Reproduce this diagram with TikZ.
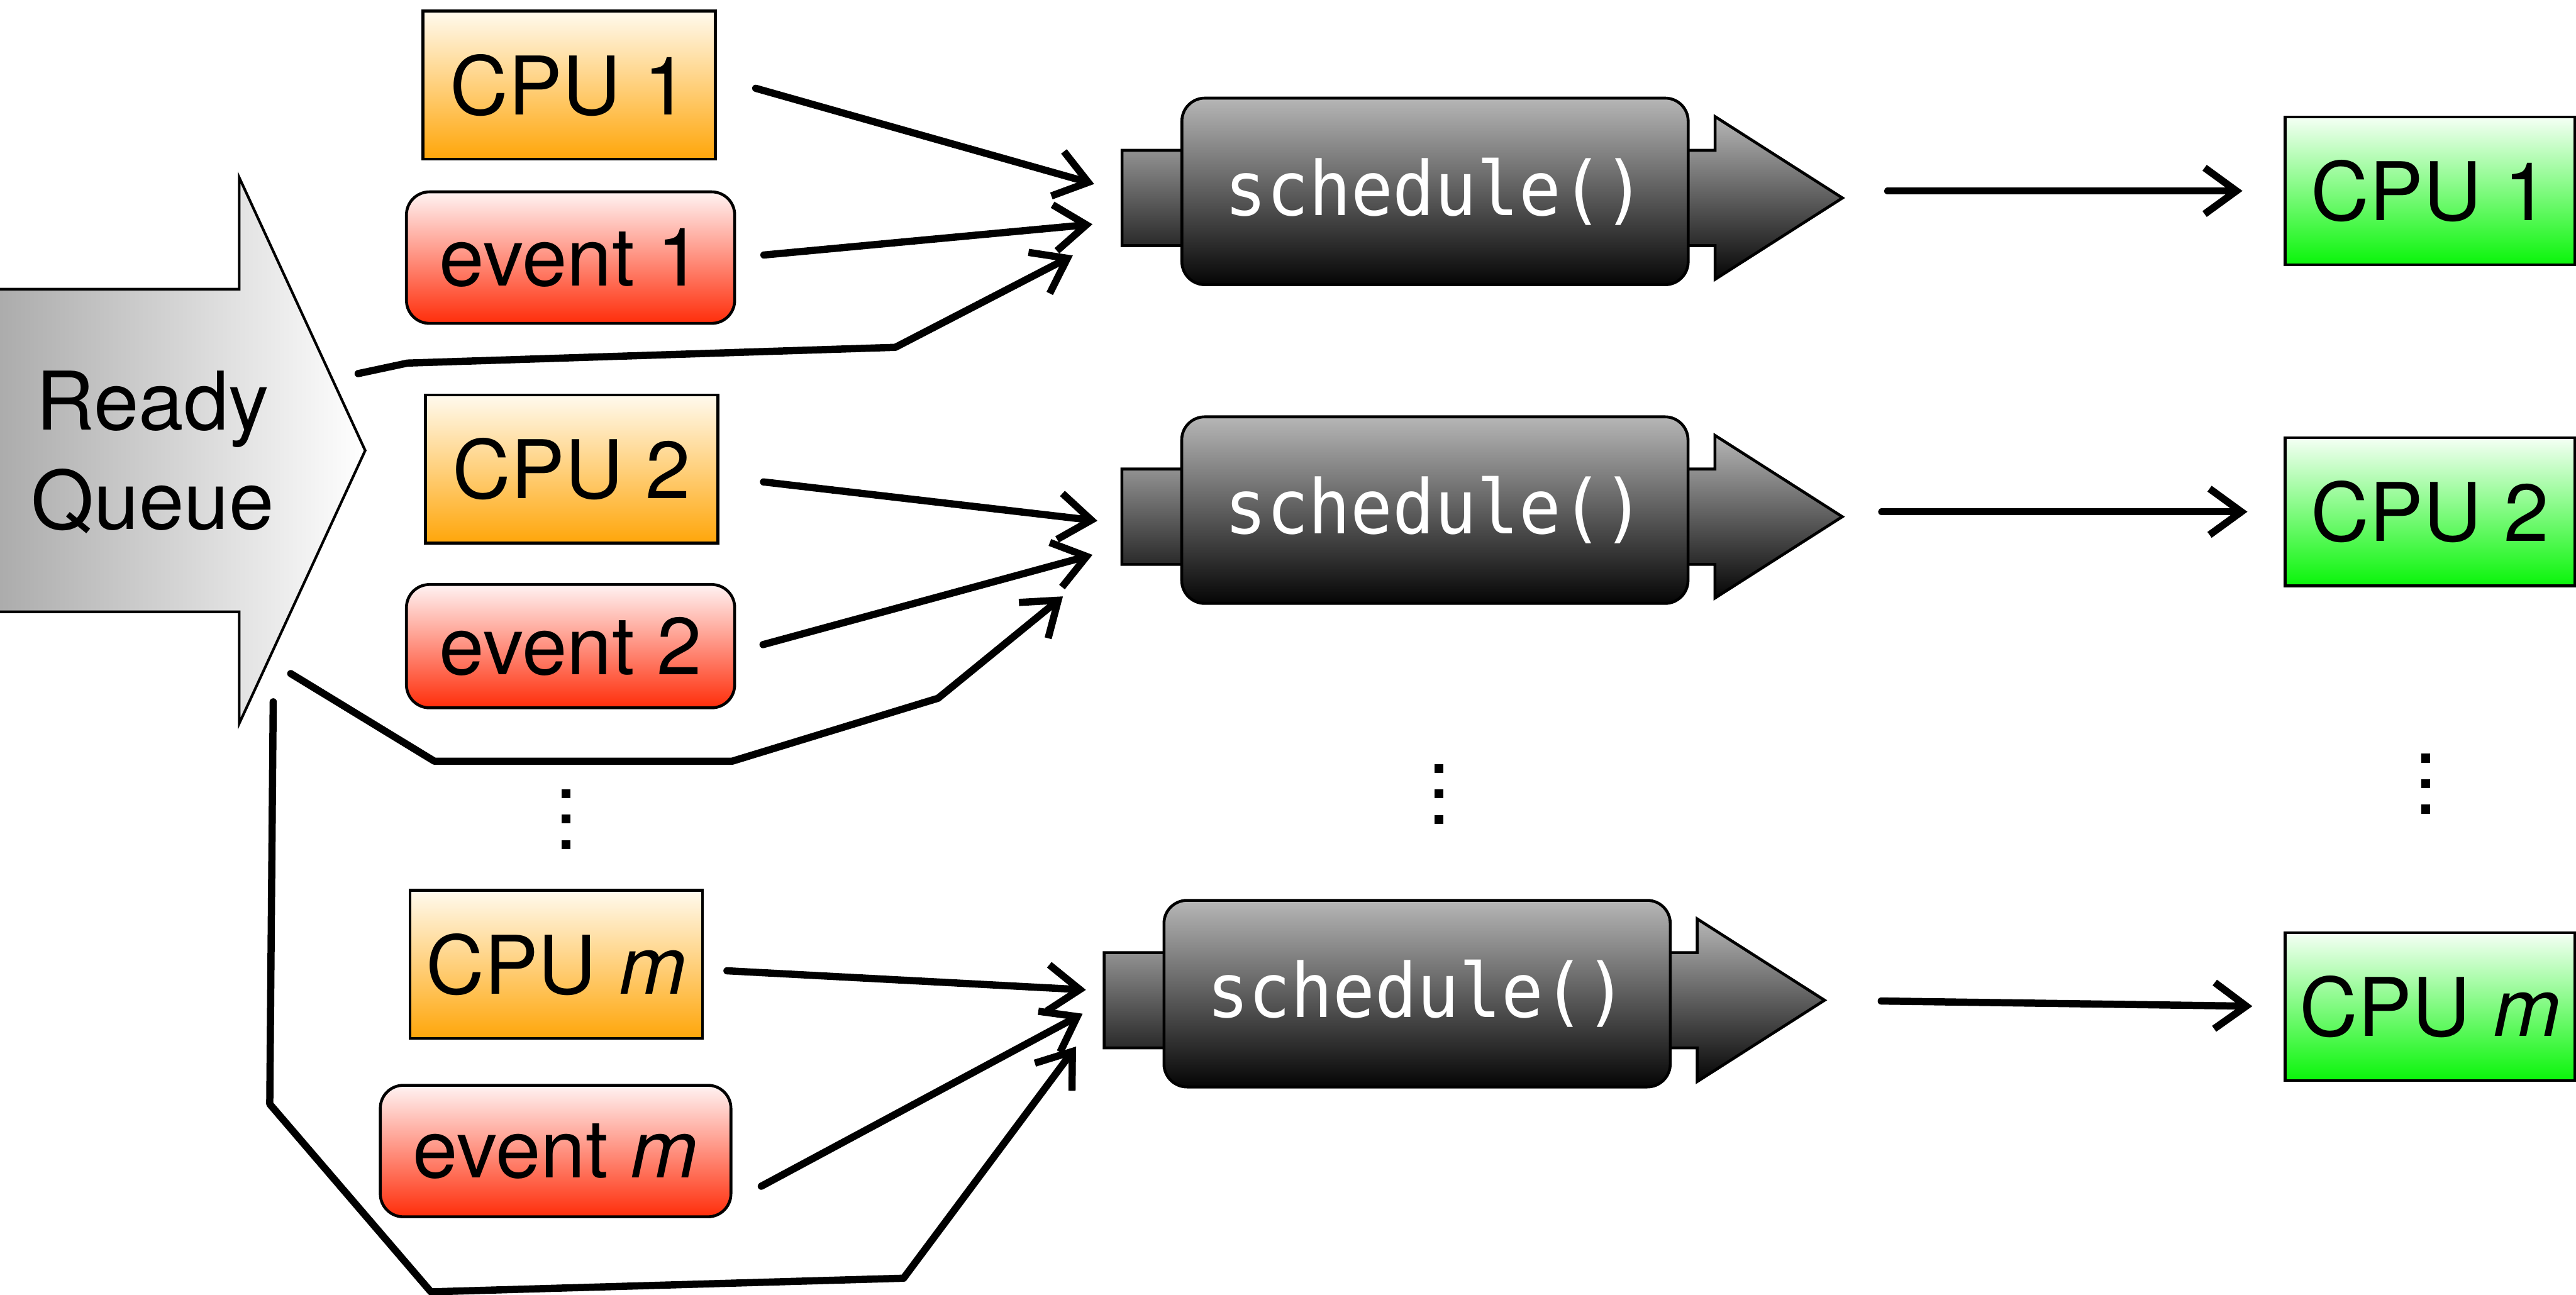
\documentclass[tikz,border=0pt]{standalone}
\usepackage{fontspec}
\setmainfont{TeX Gyre Heros}
\newfontfamily\schedfont[FakeStretch=0.93]{DejaVu Sans Mono}
\usetikzlibrary{arrows.meta,calc}

\definecolor{orTop}{RGB}{255,250,238}
\definecolor{orBot}{RGB}{255,166,10}
\definecolor{rdTop}{RGB}{255,243,243}
\definecolor{rdBot}{RGB}{255,45,10}
\definecolor{grTop}{RGB}{245,255,245}
\definecolor{grBot}{RGB}{10,245,10}
\definecolor{scTop}{RGB}{182,182,182}
\definecolor{scBot}{RGB}{5,5,5}
\definecolor{rqLeft}{RGB}{170,170,170}

\tikzset{
  box/.style={draw=black, line width=0.5pt, inner sep=0pt,
    font=\fontsize{14}{17}\selectfont},
  cpuin/.style={box, minimum width=1.78cm, minimum height=0.9cm,
    top color=orTop, bottom color=orBot},
  cpuout/.style={box, minimum width=1.765cm, minimum height=0.9cm,
    top color=grTop, bottom color=grBot},
  evt/.style={box, rounded corners=0.14cm, inner xsep=0.2cm, inner ysep=0.1cm,
    minimum height=0.8cm, top color=rdTop, bottom color=rdBot},
  schedbox/.style={draw=black, line width=0.5pt, rounded corners=0.14cm,
    minimum width=3.08cm, minimum height=1.135cm, inner sep=0pt,
    top color=scTop, bottom color=scBot, text=white,
    font=\schedfont\fontsize{13}{15}\selectfont},
  schedarrow/.style={draw=black, line width=0.5pt,
    top color=scTop, bottom color=scBot},
  conn/.style={line width=1.25pt, line cap=round, line join=round,
    -{Straight Barb[length=5.5pt,width=8pt]}},
  dotsq/.style={fill=black, inner sep=0pt, minimum size=0.055cm}
}

% schedule() block: shaded arrow behind a rounded box
% #1 name, #2 centre x, #3 arrow axis y
\newcommand\schedblock[3]{%
  \shade[schedarrow] (#2-190.5,#3-29) -- (#2+170.5,#3-29) -- (#2+170.5,#3-49.5)
    -- (#2+248,#3) -- (#2+170.5,#3+49.5) -- (#2+170.5,#3+29)
    -- (#2-190.5,#3+29) -- cycle;
  \node[schedbox] (#1) at (#2,#3-4) {schedule()};
  \coordinate (#1tip) at (#2+248,#3);
}

% vertical ellipsis of three square dots; #1 name prefix, #2 x, #3 middle y
\newcommand\dotcolumn[3]{%
  \node[dotsq] (#1a) at (#2,#3-15.5) {};
  \node[dotsq] (#1b) at (#2,#3) {};
  \node[dotsq] (#1c) at (#2,#3+15.5) {};
}

\begin{document}
\begin{tikzpicture}[x=0.01cm,y=-0.01cm]
\useasboundingbox (0,0) rectangle (1568,788);

% ready queue
\shade[draw=black, line width=0.45pt, left color=rqLeft, right color=white]
  (-5,176) -- (145.6,176) -- (145.6,108) -- (222.3,274.2) -- (145.6,440.4)
  -- (145.6,372.4) -- (-5,372.4) -- cycle;
\node[font=\fontsize{14}{17.2}\selectfont, align=center] (rq) at (93,275.3) {Ready\\Queue};

% per-CPU inputs
\node[cpuin] (cpuA1) at (346.5,51.8) {CPU 1};
\node[evt]   (evA1)  at (347.3,156.8) {event 1};
\node[cpuin] (cpuA2) at (348,285.5) {CPU 2};
\node[evt, minimum height=0.75cm] (evA2) at (347.3,393.3) {event 2};
\node[cpuin] (cpuAm) at (338.6,587) {CPU \textit{m}};
\node[evt]   (evAm)  at (338.2,700.6) {event \textit{m}};

% schedulers
\schedblock{s1}{873.5}{120.5}
\schedblock{s2}{873.4}{314.5}
\schedblock{sm}{862.6}{608.8}

% CPUs
\node[cpuout] (cpuB1) at (1479.2,116.2) {CPU 1};
\node[cpuout] (cpuB2) at (1479.2,311.5) {CPU 2};
\node[cpuout] (cpuBm) at (1479.2,612.7) {CPU \textit{m}};

% ellipses
\dotcolumn{dotsL}{344.6}{498.5}
\dotcolumn{dotsM}{875.9}{483.2}
\dotcolumn{dotsR}{1476.6}{477}

% arrow ends at the schedulers
\coordinate (i11) at (666,112);
\coordinate (i12) at (665,136.5);
\coordinate (i13) at (653,155.5);
\coordinate (i21) at (668,317);
\coordinate (i22) at (665,337.7);
\coordinate (i23) at (647,363);
\coordinate (im1) at (661,602.5);
\coordinate (im2) at (659,617);
\coordinate (im3) at (655,637);

% ready queue outlets
\coordinate (q1) at (218,227.4);
\coordinate (q2) at (177,410);
\coordinate (qm) at (166.3,427.2);

% inputs -> schedulers
\draw[conn, shorten <=0.245cm] (cpuA1.3) -- (i11);
\draw[conn, shorten <=0.17cm] (evA1.east) -- (i12);
\draw[conn] (q1) -- (248,221) -- (545,211.4) -- (i13);

\draw[conn, shorten <=0.27cm] (cpuA2.-3) -- (i21);
\draw[conn, shorten <=0.17cm] (evA2.-2) -- (i22);
\draw[conn] (q2) -- (264.4,463.3) -- (445.7,463.3) -- (571,425) -- (i23);

\draw[conn, shorten <=0.14cm] (cpuAm.-2) -- (im1);
\draw[conn, shorten <=0.2cm] (evAm.-16) -- (im2);
\draw[conn] (qm) -- (164.2,672) -- (262.3,786.3) -- (550,778) -- (im3);

% schedulers -> CPUs
\draw[conn, shorten <=0.275cm, shorten >=0.25cm] (cpuB1.west -| s1tip) -- (cpuB1.west);
\draw[conn, shorten <=0.24cm, shorten >=0.22cm] (cpuB2.west -| s2tip) -- (cpuB2.west);
\draw[conn, shorten <=0.345cm, shorten >=0.19cm] (smtip) -- (cpuBm.west);
\end{tikzpicture}
\end{document}
